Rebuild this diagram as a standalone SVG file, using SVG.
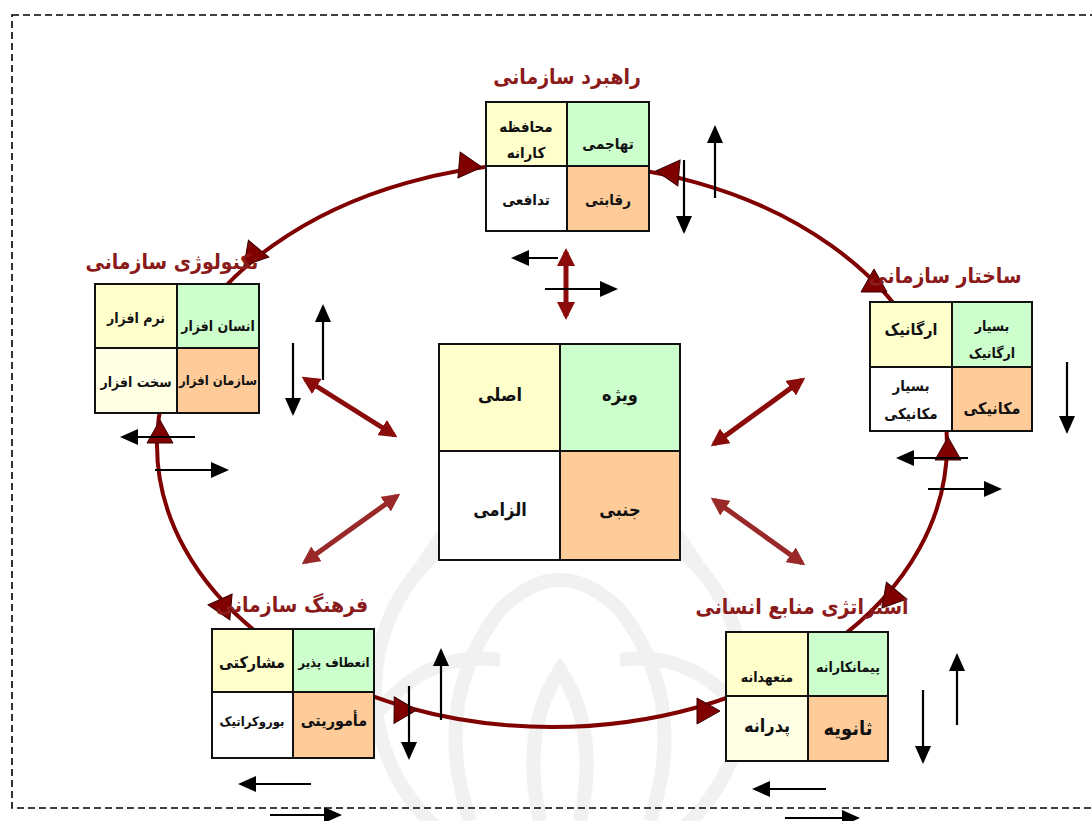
<svg xmlns="http://www.w3.org/2000/svg" xmlns:xlink="http://www.w3.org/1999/xlink" width="1092" height="821" viewBox="0 0 1092 821">
<style>
.cell{stroke:#111;stroke-width:2}
.y{fill:#FFFFCC}.g{fill:#CCFFCC}.o{fill:#FFCC99}.w{fill:#FFFFFF}.ly{fill:#FFFFE6}
.t{font-family:"DejaVu Sans Condensed","DejaVu Sans","Noto Sans",sans-serif;font-stretch:condensed;font-weight:bold;fill:#111;text-anchor:middle}
.ttl{font-family:"DejaVu Sans Condensed","DejaVu Sans","Noto Sans",sans-serif;font-stretch:condensed;font-weight:bold;fill:#8B1A1A;text-anchor:middle;font-size:21px}
.ba{stroke:#000;stroke-width:2.2;fill:none;marker-end:url(#bh)}
.ra{stroke:#8B0A0A;stroke-width:5;fill:none;marker-start:url(#rh);marker-end:url(#rh)}
.ra2{stroke:#992828;stroke-width:5;fill:none;marker-start:url(#rh2);marker-end:url(#rh2)}
.tri{fill:#800000;stroke:#3a0000;stroke-width:1}
.wm{fill:none;stroke:#f1f1f1;stroke-width:14}
</style>
<defs>
<marker id="bh" markerUnits="userSpaceOnUse" markerWidth="18" markerHeight="16" refX="16" refY="8" orient="auto"><path d="M0,0 L18,8 L0,16 Z" fill="#000"/></marker>
<marker id="rh" markerUnits="userSpaceOnUse" markerWidth="18" markerHeight="18" refX="14" refY="9" orient="auto-start-reverse"><path d="M0,0 L18,9 L0,18 Z" fill="#8B0A0A"/></marker>
<marker id="rh2" markerUnits="userSpaceOnUse" markerWidth="18" markerHeight="18" refX="14" refY="9" orient="auto-start-reverse"><path d="M0,0 L18,9 L0,18 Z" fill="#992828"/></marker>
<path id="tr" d="M12,0 L-11,-13 L-11,13 Z"/>
</defs>

<rect x="0" y="0" width="1092" height="821" fill="#fff"/>

<g id="watermark">
<circle class="wm" cx="560" cy="690" r="185"/>
<path class="wm" d="M420,570 Q470,480 560,470 Q650,480 700,570"/>
<path class="wm" d="M470,821 Q430,700 500,610 Q560,550 620,610 Q690,700 650,821"/>
<path class="wm" d="M540,821 Q520,730 560,670 Q600,730 580,821"/>
<path class="wm" d="M380,710 Q430,650 500,660"/>
<path class="wm" d="M740,710 Q690,650 620,660"/>
</g>

<rect x="12" y="15" width="1100" height="793" fill="none" stroke="#000" stroke-width="1.6" stroke-dasharray="7,4"/>

<g id="connectors">
<ellipse cx="552" cy="445" rx="395" ry="282" fill="none" stroke="#800000" stroke-width="4"/>
<use xlink:href="#tr" class="tri" transform="translate(470,166) rotate(5)"/>
<use xlink:href="#tr" class="tri" transform="translate(668,172) rotate(185)"/>
<use xlink:href="#tr" class="tri" transform="translate(257,255) rotate(10)"/>
<use xlink:href="#tr" class="tri" transform="translate(160,432) rotate(-90)"/>
<use xlink:href="#tr" class="tri" transform="translate(874,281) rotate(-90)"/>
<use xlink:href="#tr" class="tri" transform="translate(948,449) rotate(-90)"/>
<use xlink:href="#tr" class="tri" transform="translate(220,606) rotate(185)"/>
<use xlink:href="#tr" class="tri" transform="translate(400,713) rotate(120)"/>
<use xlink:href="#tr" class="tri" transform="translate(708,711) rotate(0)"/>
<use xlink:href="#tr" class="tri" transform="translate(895,597) rotate(10)"/>

<line class="ra" x1="566" y1="252" x2="566" y2="316"/>
<line class="ra" x1="305" y1="379" x2="394" y2="435"/>
<line class="ra" x1="802" y1="380" x2="714" y2="444"/>
<line class="ra2" x1="305" y1="562" x2="397" y2="496"/>
<line class="ra2" x1="714" y1="500" x2="802" y2="563"/>

<line class="ba" x1="715" y1="198" x2="715" y2="127"/>
<line class="ba" x1="684" y1="160" x2="684" y2="232"/>
<line class="ba" x1="558" y1="258" x2="513" y2="258"/>
<line class="ba" x1="545" y1="289" x2="616" y2="289"/>

<line class="ba" x1="323" y1="380" x2="323" y2="306"/>
<line class="ba" x1="293" y1="343" x2="293" y2="414"/>
<line class="ba" x1="195" y1="437" x2="122" y2="437"/>
<line class="ba" x1="155" y1="470" x2="227" y2="470"/>

<line class="ba" x1="1067" y1="362" x2="1067" y2="432"/>
<line class="ba" x1="968" y1="458" x2="898" y2="458"/>
<line class="ba" x1="928" y1="489" x2="1000" y2="489"/>

<line class="ba" x1="441" y1="720" x2="441" y2="650"/>
<line class="ba" x1="409" y1="686" x2="409" y2="758"/>
<line class="ba" x1="311" y1="784" x2="240" y2="784"/>
<line class="ba" x1="270" y1="815" x2="340" y2="815"/>

<line class="ba" x1="957" y1="725" x2="957" y2="655"/>
<line class="ba" x1="923" y1="690" x2="923" y2="762"/>
<line class="ba" x1="826" y1="789" x2="754" y2="789"/>
<line class="ba" x1="785" y1="818" x2="858" y2="818"/>
</g>

<g id="strategy">
<text class="ttl" x="567" y="84">راهبرد سازمانی</text>
<rect class="cell y" x="486" y="102" width="81" height="64"/>
<rect class="cell g" x="567" y="102" width="82" height="64"/>
<rect class="cell w" x="486" y="166" width="81" height="65"/>
<rect class="cell o" x="567" y="166" width="82" height="65"/>
<text class="t" font-size="15" x="526" y="132">محافظه</text>
<text class="t" font-size="15" x="526" y="158">کارانه</text>
<text class="t" font-size="15" x="608" y="149">تهاجمی</text>
<text class="t" font-size="15" x="526" y="205">تدافعی</text>
<text class="t" font-size="15" x="608" y="205">رقابتی</text>
</g>

<g id="technology">
<text class="ttl" x="172" y="269">تکنولوژی سازمانی</text>
<rect class="cell y" x="95" y="284" width="82" height="64"/>
<rect class="cell g" x="177" y="284" width="82" height="64"/>
<rect class="cell ly" x="95" y="348" width="82" height="65"/>
<rect class="cell o" x="177" y="348" width="82" height="65"/>
<text class="t" font-size="14" x="136" y="323">نرم افزار</text>
<text class="t" font-size="14" x="218" y="331">انسان افزار</text>
<text class="t" font-size="14" x="136" y="387">سخت افزار</text>
<text class="t" font-size="13" x="218" y="385">سازمان افزار</text>
</g>

<g id="structure">
<text class="ttl" x="945" y="283">ساختار سازمانی</text>
<rect class="cell y" x="870" y="302" width="82" height="65"/>
<rect class="cell g" x="952" y="302" width="80" height="65"/>
<rect class="cell w" x="870" y="367" width="82" height="64"/>
<rect class="cell o" x="952" y="367" width="80" height="64"/>
<text class="t" font-size="16" x="911" y="335">ارگانیک</text>
<text class="t" font-size="14" x="992" y="331">بسیار</text>
<text class="t" font-size="14" x="992" y="358">ارگانیک</text>
<text class="t" font-size="15" x="911" y="391">بسیار</text>
<text class="t" font-size="15" x="911" y="419">مکانیکی</text>
<text class="t" font-size="16" x="992" y="414">مکانیکی</text>
</g>

<g id="culture">
<text class="ttl" x="292" y="612">فرهنگ سازمانی</text>
<rect class="cell y" x="212" y="629" width="81" height="63"/>
<rect class="cell g" x="293" y="629" width="81" height="63"/>
<rect class="cell w" x="212" y="692" width="81" height="66"/>
<rect class="cell o" x="293" y="692" width="81" height="66"/>
<text class="t" font-size="16" x="252" y="668">مشارکتی</text>
<text class="t" font-size="13" x="334" y="667">انعطاف پذیر</text>
<text class="t" font-size="13" x="252" y="726">بوروکراتیک</text>
<text class="t" font-size="16" x="334" y="726">مأموریتی</text>
</g>

<g id="hrstrategy">
<text class="ttl" x="802" y="614">استراتژی منابع انسانی</text>
<rect class="cell y" x="726" y="632" width="82" height="64"/>
<rect class="cell g" x="808" y="632" width="80" height="64"/>
<rect class="cell ly" x="726" y="696" width="82" height="65"/>
<rect class="cell o" x="808" y="696" width="80" height="65"/>
<text class="t" font-size="14" x="767" y="682">متعهدانه</text>
<text class="t" font-size="14" x="848" y="672">پیمانکارانه</text>
<text class="t" font-size="18" x="767" y="732" font-weight="normal">پدرانه</text>
<text class="t" font-size="20" x="848" y="735">ثانویه</text>
</g>

<g id="center">
<rect class="cell y" x="439" y="344" width="121" height="107"/>
<rect class="cell g" x="560" y="344" width="120" height="107"/>
<rect class="cell w" x="439" y="451" width="121" height="109"/>
<rect class="cell o" x="560" y="451" width="120" height="109"/>
<text class="t" font-size="18" x="500" y="401">اصلی</text>
<text class="t" font-size="18" x="620" y="401">ویژه</text>
<text class="t" font-size="18" x="500" y="516">الزامی</text>
<text class="t" font-size="18" x="620" y="516">جنبی</text>
</g>
</svg>
